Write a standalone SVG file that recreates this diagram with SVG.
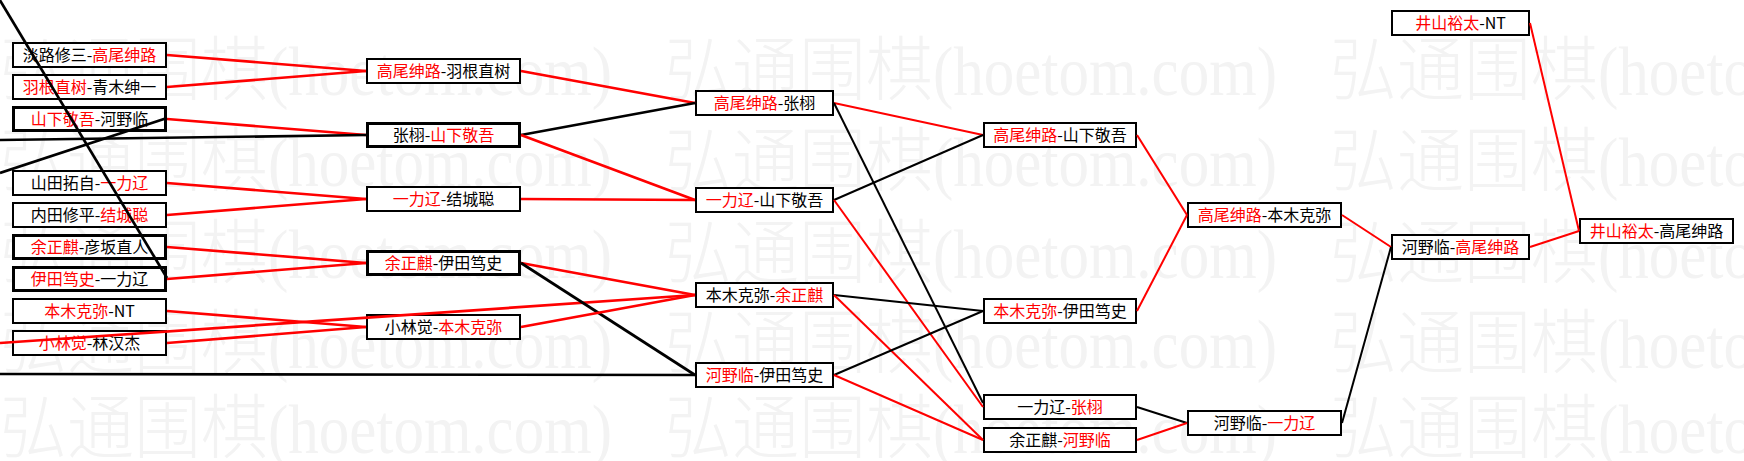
<svg xmlns="http://www.w3.org/2000/svg" width="1744" height="461" viewBox="0 0 1744 461">
<style>
.wm{font-family:"Noto Sans CJK SC",sans-serif;font-size:70px;font-weight:200;fill:#f3f3f3}
.wma{font-family:"Liberation Serif",serif;font-size:70px;fill:#f3f3f3}
.box{fill:#ffffff;stroke:#000000;stroke-width:2}
.box3{fill:#ffffff;stroke:#000000;stroke-width:3}
.t{font-family:"Noto Sans CJK SC",sans-serif;font-size:16px;fill:#000000;text-anchor:middle}
.r{fill:#ff0000}
.lr{stroke:#ff0000;fill:none}
.lk{stroke:#000000;fill:none}
.w3{stroke-width:2.7}
.w2{stroke-width:2}
</style>
<rect x="0" y="0" width="1744" height="461" fill="#ffffff"/>
<g id="watermark">
<text class="wm" x="0" y="95" textLength="268" lengthAdjust="spacingAndGlyphs">弘通围棋</text><text class="wma" x="268" y="95" textLength="344" lengthAdjust="spacingAndGlyphs">(hoetom.com)</text>
<text class="wm" x="665" y="95" textLength="268" lengthAdjust="spacingAndGlyphs">弘通围棋</text><text class="wma" x="933" y="95" textLength="344" lengthAdjust="spacingAndGlyphs">(hoetom.com)</text>
<text class="wm" x="1330" y="95" textLength="268" lengthAdjust="spacingAndGlyphs">弘通围棋</text><text class="wma" x="1598" y="95" textLength="344" lengthAdjust="spacingAndGlyphs">(hoetom.com)</text>
<text class="wm" x="0" y="186" textLength="268" lengthAdjust="spacingAndGlyphs">弘通围棋</text><text class="wma" x="268" y="186" textLength="344" lengthAdjust="spacingAndGlyphs">(hoetom.com)</text>
<text class="wm" x="665" y="186" textLength="268" lengthAdjust="spacingAndGlyphs">弘通围棋</text><text class="wma" x="933" y="186" textLength="344" lengthAdjust="spacingAndGlyphs">(hoetom.com)</text>
<text class="wm" x="1330" y="186" textLength="268" lengthAdjust="spacingAndGlyphs">弘通围棋</text><text class="wma" x="1598" y="186" textLength="344" lengthAdjust="spacingAndGlyphs">(hoetom.com)</text>
<text class="wm" x="0" y="278" textLength="268" lengthAdjust="spacingAndGlyphs">弘通围棋</text><text class="wma" x="268" y="278" textLength="344" lengthAdjust="spacingAndGlyphs">(hoetom.com)</text>
<text class="wm" x="665" y="278" textLength="268" lengthAdjust="spacingAndGlyphs">弘通围棋</text><text class="wma" x="933" y="278" textLength="344" lengthAdjust="spacingAndGlyphs">(hoetom.com)</text>
<text class="wm" x="1330" y="278" textLength="268" lengthAdjust="spacingAndGlyphs">弘通围棋</text><text class="wma" x="1598" y="278" textLength="344" lengthAdjust="spacingAndGlyphs">(hoetom.com)</text>
<text class="wm" x="0" y="368" textLength="268" lengthAdjust="spacingAndGlyphs">弘通围棋</text><text class="wma" x="268" y="368" textLength="344" lengthAdjust="spacingAndGlyphs">(hoetom.com)</text>
<text class="wm" x="665" y="368" textLength="268" lengthAdjust="spacingAndGlyphs">弘通围棋</text><text class="wma" x="933" y="368" textLength="344" lengthAdjust="spacingAndGlyphs">(hoetom.com)</text>
<text class="wm" x="1330" y="368" textLength="268" lengthAdjust="spacingAndGlyphs">弘通围棋</text><text class="wma" x="1598" y="368" textLength="344" lengthAdjust="spacingAndGlyphs">(hoetom.com)</text>
<text class="wm" x="0" y="453" textLength="268" lengthAdjust="spacingAndGlyphs">弘通围棋</text><text class="wma" x="268" y="453" textLength="344" lengthAdjust="spacingAndGlyphs">(hoetom.com)</text>
<text class="wm" x="665" y="453" textLength="268" lengthAdjust="spacingAndGlyphs">弘通围棋</text><text class="wma" x="933" y="453" textLength="344" lengthAdjust="spacingAndGlyphs">(hoetom.com)</text>
<text class="wm" x="1330" y="453" textLength="268" lengthAdjust="spacingAndGlyphs">弘通围棋</text><text class="wma" x="1598" y="453" textLength="344" lengthAdjust="spacingAndGlyphs">(hoetom.com)</text>
</g>
<g id="nodes">
<g id="r1-1"><rect class="box" x="13" y="43" width="153" height="24"/><text class="t" x="89.5" y="61">淡路修三-<tspan class="r">高尾绅路</tspan></text></g>
<g id="r1-2"><rect class="box" x="13" y="75" width="153" height="24"/><text class="t" x="89.5" y="93"><tspan class="r">羽根直树</tspan>-青木绅一</text></g>
<g id="r1-3"><rect class="box3" x="13.5" y="107.5" width="152" height="23"/><text class="t" x="89.5" y="125"><tspan class="r">山下敬吾</tspan>-河野临</text></g>
<g id="r1-4"><rect class="box" x="13" y="171" width="153" height="24"/><text class="t" x="89.5" y="189">山田拓自-<tspan class="r">一力辽</tspan></text></g>
<g id="r1-5"><rect class="box" x="13" y="203" width="153" height="24"/><text class="t" x="89.5" y="221">内田修平-<tspan class="r">结城聪</tspan></text></g>
<g id="r1-6"><rect class="box3" x="13.5" y="235.5" width="152" height="23"/><text class="t" x="89.5" y="253"><tspan class="r">余正麒</tspan>-彦坂直人</text></g>
<g id="r1-7"><rect class="box3" x="13.5" y="267.5" width="152" height="23"/><text class="t" x="89.5" y="285"><tspan class="r">伊田笃史</tspan>-一力辽</text></g>
<g id="r1-8"><rect class="box" x="13" y="299" width="153" height="24"/><text class="t" x="89.5" y="317"><tspan class="r">本木克弥</tspan>-NT</text></g>
<g id="r1-9"><rect class="box" x="13" y="331" width="153" height="24"/><text class="t" x="89.5" y="349"><tspan class="r">小林觉</tspan>-林汉杰</text></g>

<g id="r2-1"><rect class="box" x="367" y="59" width="153" height="24"/><text class="t" x="443.5" y="77"><tspan class="r">高尾绅路</tspan>-羽根直树</text></g>
<g id="r2-2"><rect class="box3" x="367.5" y="123.5" width="152" height="23"/><text class="t" x="443.5" y="141">张栩-<tspan class="r">山下敬吾</tspan></text></g>
<g id="r2-3"><rect class="box" x="367" y="187" width="153" height="24"/><text class="t" x="443.5" y="205"><tspan class="r">一力辽</tspan>-结城聪</text></g>
<g id="r2-4"><rect class="box3" x="367.5" y="251.5" width="152" height="23"/><text class="t" x="443.5" y="269"><tspan class="r">余正麒</tspan>-伊田笃史</text></g>
<g id="r2-5"><rect class="box" x="367" y="315" width="153" height="24"/><text class="t" x="443.5" y="333">小林觉-<tspan class="r">本木克弥</tspan></text></g>

<g id="r3-1"><rect class="box" x="696" y="91" width="137" height="24"/><text class="t" x="764.5" y="109"><tspan class="r">高尾绅路</tspan>-张栩</text></g>
<g id="r3-2"><rect class="box" x="696" y="188" width="137" height="24"/><text class="t" x="764.5" y="206"><tspan class="r">一力辽</tspan>-山下敬吾</text></g>
<g id="r3-3"><rect class="box" x="696" y="283" width="137" height="24"/><text class="t" x="764.5" y="301">本木克弥-<tspan class="r">余正麒</tspan></text></g>
<g id="r3-4"><rect class="box" x="696" y="363" width="137" height="24"/><text class="t" x="764.5" y="381"><tspan class="r">河野临</tspan>-伊田笃史</text></g>

<g id="r4-1"><rect class="box" x="984" y="123" width="152" height="24"/><text class="t" x="1060" y="141"><tspan class="r">高尾绅路</tspan>-山下敬吾</text></g>
<g id="r4-2"><rect class="box" x="984" y="299" width="152" height="24"/><text class="t" x="1060" y="317"><tspan class="r">本木克弥</tspan>-伊田笃史</text></g>
<g id="r4-3"><rect class="box" x="984" y="395" width="152" height="24"/><text class="t" x="1060" y="413">一力辽-<tspan class="r">张栩</tspan></text></g>
<g id="r4-4"><rect class="box" x="984" y="428" width="152" height="24"/><text class="t" x="1060" y="446">余正麒-<tspan class="r">河野临</tspan></text></g>

<g id="r5-1"><rect class="box" x="1188" y="203" width="153" height="24"/><text class="t" x="1264.5" y="221"><tspan class="r">高尾绅路</tspan>-本木克弥</text></g>
<g id="r5-2"><rect class="box" x="1188" y="411" width="153" height="24"/><text class="t" x="1264.5" y="429">河野临-<tspan class="r">一力辽</tspan></text></g>

<g id="r6-1"><rect class="box" x="1392" y="11" width="137" height="24"/><text class="t" x="1460.5" y="29"><tspan class="r">井山裕太</tspan>-NT</text></g>
<g id="r6-2"><rect class="box" x="1392" y="235" width="137" height="24"/><text class="t" x="1460.5" y="253">河野临-<tspan class="r">高尾绅路</tspan></text></g>

<g id="r7-1"><rect class="box" x="1580" y="219" width="153" height="24"/><text class="t" x="1656.5" y="237"><tspan class="r">井山裕太</tspan>-高尾绅路</text></g>
</g>
<g id="connectors">
<line class="lr w3" x1="167" y1="55" x2="366" y2="71"/>
<line class="lr w3" x1="167" y1="87" x2="366" y2="71"/>
<line class="lr w3" x1="167" y1="119" x2="366" y2="135"/>
<line class="lr w3" x1="167" y1="183" x2="366" y2="199"/>
<line class="lr w3" x1="167" y1="215" x2="366" y2="199"/>
<line class="lr w3" x1="167" y1="247" x2="366" y2="263"/>
<line class="lr w3" x1="167" y1="279" x2="366" y2="263"/>
<line class="lr w3" x1="167" y1="311" x2="366" y2="327"/>
<line class="lr w3" x1="167" y1="343" x2="366" y2="327"/>
<line class="lk w3" x1="-2" y1="-3" x2="167" y2="278"/>
<line class="lk w3" x1="0" y1="173" x2="167" y2="118"/>
<line class="lk w3" x1="0" y1="140" x2="366" y2="135"/>
<line class="lr w3" x1="0" y1="343" x2="695" y2="295"/>
<line class="lk w3" x1="0" y1="374" x2="695" y2="375"/>

<line class="lr w3" x1="521" y1="71" x2="695" y2="103"/>
<line class="lk w3" x1="521" y1="135" x2="695" y2="103"/>
<line class="lr w3" x1="521" y1="135" x2="695" y2="200"/>
<line class="lr w3" x1="521" y1="199" x2="695" y2="200"/>
<line class="lr w3" x1="521" y1="263" x2="695" y2="295"/>
<line class="lk w3" x1="521" y1="263" x2="695" y2="375"/>
<line class="lr w3" x1="521" y1="327" x2="695" y2="295"/>

<line class="lr w2" x1="834" y1="103" x2="983" y2="135"/>
<line class="lk w2" x1="834" y1="103" x2="983" y2="403"/>
<line class="lk w2" x1="834" y1="200" x2="983" y2="135"/>
<line class="lr w2" x1="834" y1="200" x2="983" y2="407"/>
<line class="lk w2" x1="834" y1="295" x2="983" y2="311"/>
<line class="lr w2" x1="834" y1="295" x2="983" y2="440"/>
<line class="lk w2" x1="834" y1="375" x2="983" y2="311"/>
<line class="lr w2" x1="834" y1="375" x2="983" y2="440"/>

<line class="lr w2" x1="1137" y1="135" x2="1187" y2="215"/>
<line class="lr w2" x1="1137" y1="311" x2="1187" y2="215"/>
<line class="lk w2" x1="1137" y1="407" x2="1187" y2="423"/>
<line class="lr w2" x1="1137" y1="440" x2="1187" y2="423"/>

<line class="lr w2" x1="1342" y1="215" x2="1391" y2="247"/>
<line class="lk w2" x1="1342" y1="423" x2="1391" y2="247"/>

<line class="lr w2" x1="1530" y1="247" x2="1579" y2="231"/>
<line class="lr w2" x1="1530" y1="23" x2="1579" y2="231"/>
</g>
</svg>
